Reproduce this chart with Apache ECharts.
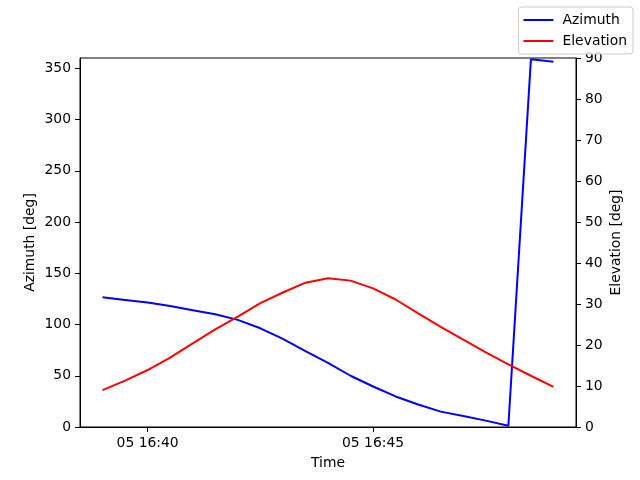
<!DOCTYPE html>
<html>
<head>
<meta charset="utf-8">
<script src="https://cdn.jsdelivr.net/npm/echarts@6/dist/echarts.min.js"></script>
<style>html,body{margin:0;padding:0;background:#fff;}#c{width:640px;height:480px;}</style>
</head>
<body>
<div id="c"></div>
<script>
// Time samples: 30 s steps starting 05 16:39:00
var startTime = Date.UTC(2024, 0, 5, 16, 39, 0);
var stepSeconds = 30;
var azimuth = [126.5, 124, 121.5, 118, 114, 110, 104.5, 96.3, 86, 74, 62.5, 50, 39.5, 29.8, 22, 15, 10.8, 6.2, 1.3, 358.7, 356.4];
var elevation = [9.0, 11.3, 13.9, 16.9, 20.4, 23.8, 26.9, 30.2, 32.8, 35.2, 36.3, 35.7, 33.8, 31.1, 27.7, 24.4, 21.3, 18.2, 15.3, 12.5, 9.8];
var xTickTimes = [Date.UTC(2024, 0, 5, 16, 40, 0), Date.UTC(2024, 0, 5, 16, 45, 0)];
var azTicks = [0, 50, 100, 150, 200, 250, 300, 350];
var xMin = Date.UTC(2024, 0, 5, 16, 38, 30);
var xMax = Date.UTC(2024, 0, 5, 16, 49, 30);

var times = azimuth.map(function (_, i) { return startTime + i * stepSeconds * 1000; });
var azData = times.map(function (t, i) { return [t, azimuth[i]]; });
var elData = times.map(function (t, i) { return [t, elevation[i]]; });

function pad(n) { return (n < 10 ? '0' : '') + n; }
function fmtTime(v) {
  var d = new Date(v);
  return pad(d.getUTCDate()) + ' ' + pad(d.getUTCHours()) + ':' + pad(d.getUTCMinutes());
}

var font = 'DejaVu Sans';
var fs = 13.9;
var axisLineStyle = { color: '#000', width: 1 };

var chart = echarts.init(document.getElementById('c'), null, { renderer: 'canvas' });
chart.setOption({
  animation: false,
  backgroundColor: '#fff',
  textStyle: { fontFamily: font },
  grid: { left: 80, right: 64, top: 58, bottom: 53, show: true, borderColor: '#000', borderWidth: 1, backgroundColor: 'transparent' },
  legend: {
    orient: 'vertical',
    right: 7,
    top: 7,
    padding: [6, 6, 6, 5],
    itemGap: 7,
    itemWidth: 30,
    itemHeight: 2,
    icon: 'rect',
    backgroundColor: 'rgba(255,255,255,0.8)',
    borderColor: '#cccccc',
    borderWidth: 1,
    borderRadius: 3,
    textStyle: { fontFamily: font, fontSize: fs, color: '#000', padding: [0, 0, 0, 4], lineHeight: 14 },
    data: ['Azimuth', 'Elevation']
  },
  xAxis: {
    type: 'value',
    min: xMin,
    max: xMax,
    name: 'Time',
    nameLocation: 'middle',
    nameGap: 29,
    nameMoveOverlap: false,
    nameTextStyle: { fontFamily: font, fontSize: fs, color: '#000' },
    axisLine: { show: true, lineStyle: axisLineStyle },
    axisTick: { show: true, length: 5, lineStyle: axisLineStyle, customValues: xTickTimes },
    axisLabel: { margin: 9, fontFamily: font, fontSize: fs, color: '#000', customValues: xTickTimes, formatter: fmtTime },
    splitLine: { show: false }
  },
  yAxis: [
    {
      type: 'value',
      min: 0,
      max: 360,
      name: 'Azimuth [deg]',
      nameLocation: 'middle',
      nameGap: 43,
      nameMoveOverlap: false,
      nameTextStyle: { fontFamily: font, fontSize: fs, color: '#000' },
      axisLine: { show: true, lineStyle: axisLineStyle },
      axisTick: { show: true, length: 5, lineStyle: axisLineStyle, customValues: azTicks },
      axisLabel: { margin: 9, fontFamily: font, fontSize: fs, color: '#000', customValues: azTicks },
      splitLine: { show: false }
    },
    {
      type: 'value',
      min: 0,
      max: 90,
      interval: 10,
      position: 'right',
      name: 'Elevation [deg]',
      nameLocation: 'middle',
      nameGap: 33,
      nameRotate: 90,
      nameMoveOverlap: false,
      nameTextStyle: { fontFamily: font, fontSize: fs, color: '#000' },
      axisLine: { show: true, lineStyle: axisLineStyle },
      axisTick: { show: true, length: 5, lineStyle: axisLineStyle },
      axisLabel: { margin: 9, fontFamily: font, fontSize: fs, color: '#000' },
      splitLine: { show: false }
    }
  ],
  series: [
    {
      name: 'Azimuth',
      type: 'line',
      yAxisIndex: 0,
      data: azData,
      symbol: 'none',
      lineStyle: { color: '#0000ff', width: 2 },
      itemStyle: { color: '#0000ff' }
    },
    {
      name: 'Elevation',
      type: 'line',
      yAxisIndex: 1,
      data: elData,
      symbol: 'none',
      lineStyle: { color: '#ff0000', width: 2 },
      itemStyle: { color: '#ff0000' }
    }
  ]
});
</script>
</body>
</html>
